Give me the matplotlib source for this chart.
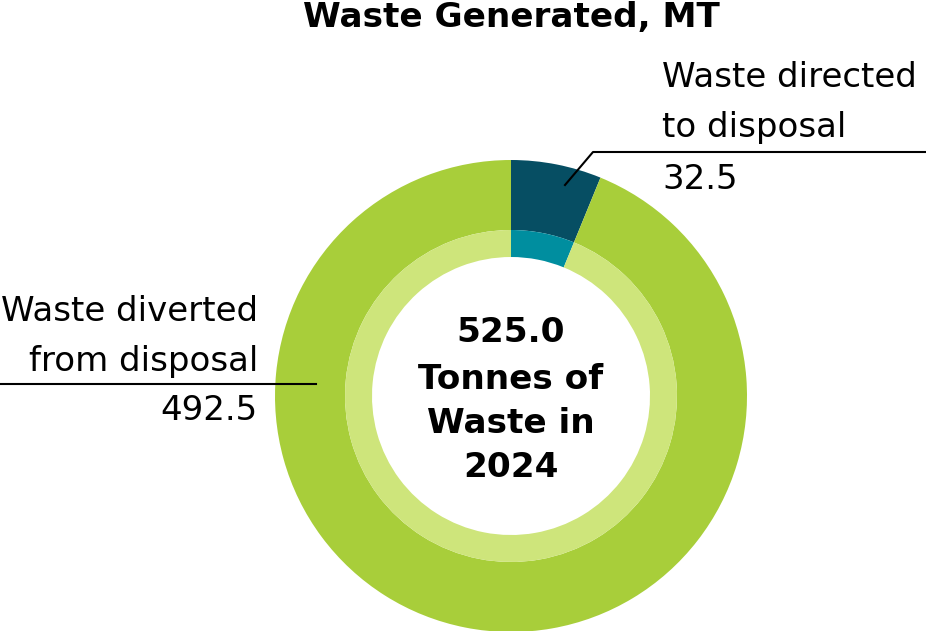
import matplotlib
matplotlib.use("Agg")
import matplotlib.pyplot as plt

categories = ["Waste directed\nto disposal", "Waste diverted\nfrom disposal"]
values = [32.5, 492.5]
total = sum(values)
year = 2024
title = "Waste Generated, MT"

outer_colors = ["#064E63", "#A8CE3A"]
inner_colors = ["#008E9F", "#CEE57B"]

W, H = 926, 631
fig = plt.figure(figsize=(W / 100, H / 100), dpi=100)
ax = fig.add_axes([0, 0, 1, 1])
ax.set_xlim(0, W)
ax.set_ylim(0, H)
ax.set_aspect("equal")
ax.axis("off")

cx, cy = 511, H - 396
ax.pie(values, radius=236, center=(cx, cy), startangle=90, counterclock=False,
       colors=outer_colors, wedgeprops=dict(width=70, linewidth=0))
ax.pie(values, radius=166, center=(cx, cy), startangle=90, counterclock=False,
       colors=inner_colors, wedgeprops=dict(width=27, linewidth=0))
ax.set_xlim(0, W)
ax.set_ylim(0, H)

fam = ["DejaVu Sans"]
bold_size = 24.7
lab_size = 24.5
ax.text(cx, H - 27, title, ha="center", va="baseline", fontsize=bold_size, fontweight="bold",
        family=fam, color="black")

center_lines = [f"{total:.1f}", "Tonnes of", "Waste in", str(year)]
ys = [342, 389, 433, 477]
for t, y in zip(center_lines, ys):
    ax.text(cx, H - y, t, ha="center", va="baseline", fontsize=bold_size, fontweight="bold",
            family=fam, color="black")

# top-right label
l1 = categories[0].split("\n")
ax.text(662, H - 87, l1[0], ha="left", va="baseline", fontsize=lab_size, family=fam)
ax.text(662, H - 137, l1[1], ha="left", va="baseline", fontsize=lab_size, family=fam)
ax.text(662, H - 189, f"{values[0]:.1f}", ha="left", va="baseline", fontsize=lab_size, family=fam)
ax.plot([565, 593, 926], [H - 185, H - 152, H - 152], color="black", lw=1.5)

# left label
l2 = categories[1].split("\n")
ax.text(258, H - 321, l2[0], ha="right", va="baseline", fontsize=lab_size, family=fam)
ax.text(258, H - 371, l2[1], ha="right", va="baseline", fontsize=lab_size, family=fam)
ax.text(258, H - 420, f"{values[1]:.1f}", ha="right", va="baseline", fontsize=lab_size, family=fam)
ax.plot([0, 316], [H - 384, H - 384], color="black", lw=1.5)

fig.savefig("out.png", dpi=100)
